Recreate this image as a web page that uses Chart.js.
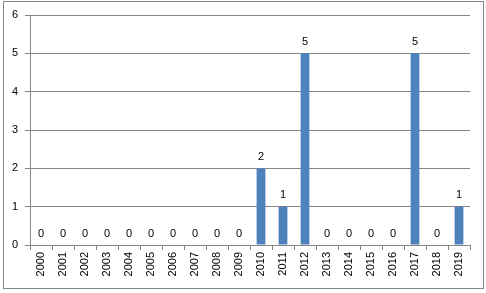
<!DOCTYPE html>
<html>
<head>
<meta charset="utf-8">
<script src="https://cdn.jsdelivr.net/npm/chart.js@4/dist/chart.umd.min.js"></script>
<style>
  html, body { margin: 0; padding: 0; background: #fff; }
  #wrap { width: 486px; height: 293px; position: relative; }
</style>
</head>
<body>
<div id="wrap"><canvas id="myChart" width="486" height="293"></canvas></div>
<script>
const years = ['2000','2001','2002','2003','2004','2005','2006','2007','2008','2009',
  '2010','2011','2012','2013','2014','2015','2016','2017','2018','2019']
const counts = [0,0,0,0,0,0,0,0,0,0,2,1,5,0,0,0,0,5,0,1]
const yTicks = [0,1,2,3,4,5,6]

const axisGray = '#868686'

// value labels above each bar
const barLabels = {
  id: 'barLabels',
  afterDatasetsDraw(chart) {
    const ctx = chart.ctx
    const meta = chart.getDatasetMeta(0)
    ctx.save()
    ctx.font = '11px "Liberation Sans", Arial, sans-serif'
    ctx.fillStyle = '#000'
    ctx.textAlign = 'center'
    ctx.textBaseline = 'bottom'
    meta.data.forEach((bar, i) => {
      ctx.fillText(String(counts[i]), bar.x, bar.y - 6)
    })
    ctx.restore()
  }
}

// outer frame of the chart
const frame = {
  id: 'frame',
  afterDraw(chart) {
    const ctx = chart.ctx
    ctx.save()
    ctx.strokeStyle = axisGray
    ctx.lineWidth = 1
    ctx.strokeRect(3.5, 1.5, 480, 287)
    ctx.restore()
  }
}

const ctx = document.getElementById('myChart').getContext('2d')
const chart = new Chart(ctx, {
  type: 'bar',
  data: {
    labels: years,
    datasets: [{
      data: counts,
      backgroundColor: '#4F81BD',
      borderWidth: 0,
      barPercentage: 0.4,
      categoryPercentage: 1
    }]
  },
  options: {
    responsive: false,
    animation: false,
    layout: { padding: { left: 0, top: 15, right: 16, bottom: 0 } },
    plugins: { legend: { display: false }, tooltip: { enabled: false } },
    scales: {
      x: {
        afterFit(scale) { scale.height = 48 },
        grid: {
          offset: true,
          drawOnChartArea: false,
          drawTicks: true,
          tickLength: 5,
          color: axisGray
        },
        border: { color: axisGray },
        ticks: {
          minRotation: 90,
          maxRotation: 90,
          padding: 2,
          color: '#000',
          font: { family: '"Liberation Sans", Arial, sans-serif', size: 11 }
        }
      },
      y: {
        min: 0,
        max: 6,
        afterFit(scale) { scale.width = 30 },
        afterBuildTicks(scale) { scale.ticks = yTicks.map(v => ({ value: v })) },
        grid: { color: axisGray, tickLength: 5 },
        border: { color: axisGray },
        ticks: {
          padding: 7,
          color: '#000',
          font: { family: '"Liberation Sans", Arial, sans-serif', size: 11 }
        }
      }
    }
  },
  plugins: [barLabels, frame]
})
</script>
</body>
</html>
